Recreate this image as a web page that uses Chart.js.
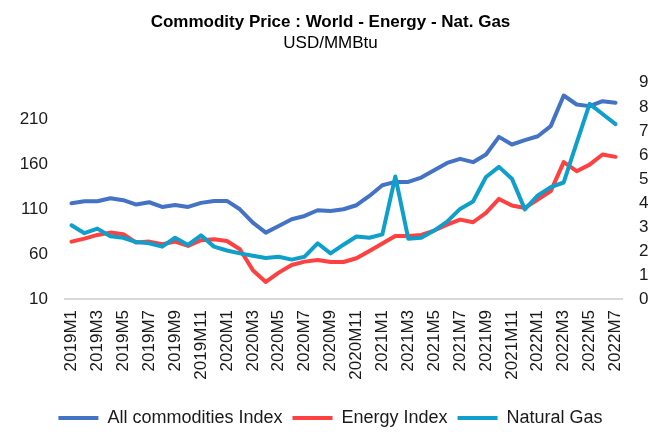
<!DOCTYPE html>
<html lang="en">
<head>
<meta charset="UTF-8">
<title>Commodity Price : World - Energy - Nat. Gas</title>
<script src="https://cdn.jsdelivr.net/npm/chart.js"></script>
<style>
    html, body { margin: 0; padding: 0; background: #fff; }
    #wrap { width: 661px; height: 432px; }
</style>
</head>
<body>
<div id="wrap"><canvas id="gasChart" width="661" height="432"></canvas></div>
<script>
    const months = [
        '2019M1', '2019M2', '2019M3', '2019M4', '2019M5', '2019M6', '2019M7', '2019M8', '2019M9', '2019M10', '2019M11', '2019M12',
        '2020M1', '2020M2', '2020M3', '2020M4', '2020M5', '2020M6', '2020M7', '2020M8', '2020M9', '2020M10', '2020M11', '2020M12',
        '2021M1', '2021M2', '2021M3', '2021M4', '2021M5', '2021M6', '2021M7', '2021M8', '2021M9', '2021M10', '2021M11', '2021M12',
        '2022M1', '2022M2', '2022M3', '2022M4', '2022M5', '2022M6', '2022M7'
    ];

    // left axis (index values)
    const allCommodities = [116.3, 118.5, 118.5, 121.9, 119.7, 114.8, 117.4, 112.2, 114.4, 112.2, 116.7, 118.9,
        118.9, 109.6, 94.8, 83.7, 91.1, 98.5, 102.2, 108.5, 107.8, 109.6, 114.1, 124.4,
        136.3, 140, 140, 144.8, 153, 161.1, 165.6, 161.9, 170.4, 190, 181.5, 186.3,
        190.7, 201.9, 235.9, 225.9, 224.1, 229.6, 227.8];
    const energyIndex = [73.7, 77, 81.1, 83.7, 81.9, 72.6, 73.7, 70.7, 73.7, 68.9, 75.2, 76.3,
        74.4, 65.2, 42, 28.9, 39.3, 47.8, 51.5, 53.3, 51.1, 51.1, 55.2, 63.3,
        71.5, 80, 80, 81.1, 86, 92.6, 98.1, 95.2, 105.6, 121.1, 113.7, 111.1,
        120.4, 129.7, 161.9, 151.9, 159.2, 170.4, 167.8];

    // right axis (USD/MMBtu)
    const naturalGas = [3.07, 2.74, 2.93, 2.61, 2.55, 2.37, 2.32, 2.18, 2.55, 2.25, 2.65, 2.18,
        2.02, 1.9, 1.8, 1.71, 1.76, 1.64, 1.76, 2.32, 1.9, 2.26, 2.6, 2.55,
        2.69, 5.1, 2.51, 2.55, 2.85, 3.22, 3.75, 4.06, 5.08, 5.5, 5.01, 3.73,
        4.31, 4.66, 4.85, 6.5, 8.12, 7.7, 7.28];

    const leftTicks = [10, 60, 110, 160, 210];
    const rightTicks = [0, 1, 2, 3, 4, 5, 6, 7, 8, 9];

    const FONT = 'Liberation Sans, Arial, sans-serif';
    const TEXT = '#1a1a1a';

    const ctx = document.getElementById('gasChart').getContext('2d');
    new Chart(ctx, {
        type: 'line',
        data: {
            labels: months,
            datasets: [
                { label: 'All commodities Index', data: allCommodities, yAxisID: 'y', borderWidth: 4,
                  borderColor: '#4472C4', backgroundColor: '#4472C4', order: 2 },
                { label: 'Energy Index', data: energyIndex, yAxisID: 'y', borderWidth: 4,
                  borderColor: '#FF4040', backgroundColor: '#FF4040', order: 1 },
                { label: 'Natural Gas', data: naturalGas, yAxisID: 'y2', borderWidth: 4,
                  borderColor: '#0E9FCB', backgroundColor: '#0E9FCB', order: 0 }
            ]
        },
        options: {
            responsive: false,
            animation: false,
            elements: {
                line: { tension: 0, borderJoinStyle: 'round', borderCapStyle: 'round' },
                point: { radius: 0, hoverRadius: 0 }
            },
            layout: { padding: { left: 0, right: 0, top: 0, bottom: -5 } },
            plugins: {
                title: {
                    display: true,
                    text: 'Commodity Price : World - Energy - Nat. Gas',
                    color: '#000',
                    font: { family: FONT, size: 17, weight: 'bold', lineHeight: 1.2 },
                    padding: { top: 12, bottom: 0 }
                },
                subtitle: {
                    display: true,
                    text: 'USD/MMBtu',
                    color: '#000',
                    font: { family: FONT, size: 17, lineHeight: 1.2 },
                    padding: { top: 1, bottom: 29 }
                },
                legend: {
                    position: 'bottom',
                    labels: {
                        color: TEXT,
                        font: { family: FONT, size: 18 },
                        usePointStyle: true,
                        pointStyle: 'line',
                        pointStyleWidth: 40,
                        padding: 10,
                        sort: (a, b) => a.datasetIndex - b.datasetIndex
                    }
                },
                tooltip: { enabled: false }
            },
            scales: {
                x: {
                    offset: true,
                    grid: { display: false, drawTicks: false },
                    border: { display: true, color: '#D9D9D9', width: 2 },
                    ticks: {
                        autoSkip: false,
                        minRotation: 90,
                        maxRotation: 90,
                        padding: 11,
                        color: TEXT,
                        font: { family: FONT, size: 17 },
                        callback: function (value, index) {
                            return index % 2 === 0 ? this.getLabelForValue(value) : '';
                        }
                    },
                    afterFit: (scale) => { scale.height = 100; }
                },
                y: {
                    position: 'left',
                    min: 10,
                    max: 250,
                    grid: { display: false, drawTicks: false },
                    border: { display: false },
                    ticks: { padding: 17, color: TEXT, font: { family: FONT, size: 17 } },
                    afterBuildTicks: (scale) => { scale.ticks = leftTicks.map(v => ({ value: v })); },
                    afterFit: (scale) => { scale.width = 65; }
                },
                y2: {
                    position: 'right',
                    min: 0,
                    max: 9,
                    grid: { display: false, drawTicks: false },
                    border: { display: false },
                    ticks: { padding: 17, color: TEXT, font: { family: FONT, size: 17 } },
                    afterBuildTicks: (scale) => { scale.ticks = rightTicks.map(v => ({ value: v })); },
                    afterFit: (scale) => { scale.width = 39; }
                }
            }
        }
    });
</script>
</body>
</html>
